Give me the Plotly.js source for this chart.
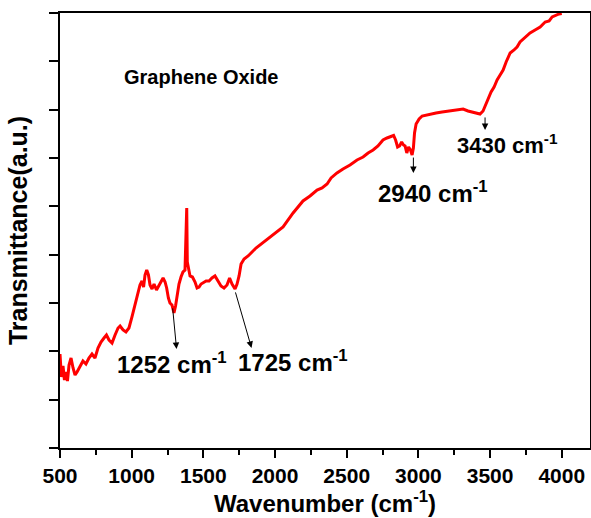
<!DOCTYPE html>
<html><head><meta charset="utf-8">
<script src="https://cdn.plot.ly/plotly-3.0.1.min.js"></script>
<style>html,body{margin:0;padding:0;background:#fff}#chart{width:591px;height:518px}</style>
</head><body><div id="chart"></div>
<script>
// FTIR spectrum of graphene oxide
const wavenumber = [
  500,510,521,531,542,552,563,577,591,605,619,640,660,681,702,723,744,765,786,807,
  824,842,863,884,905,919,940,960,981,1002,1023,1044,1058,1072,1083,1093,1105,1117,1128,1142,
  1156,1173,1191,1205,1219,1233,1244,1256,1267,1281,1295,1306,1316,1330,1344,1358,1372,1379,1384,1388,
  1396,1407,1424,1442,1456,1470,1484,1498,1519,1540,1560,1581,1602,1623,1644,1665,1683,1700,1721,1735,
  1749,1763,1784,1812,1867,1923,1979,2056,2126,2195,2244,2293,2328,2363,2391,2432,2474,2523,2572,2614,
  2649,2684,2718,2753,2781,2809,2827,2841,2855,2869,2883,2896,2907,2919,2931,2945,2956,2965,2973,2984,
  3005,3026,3053,3081,3123,3165,3221,3270,3312,3346,3374,3402,3430,3451,3468,3486,3507,3528,3549,3570,
  3591,3612,3640,3667,3688,3709,3744,3779,3814,3849,3884,3912,3933,3960,3981,4000
];
const transmittance = [
  1.945,1.469,1.697,1.407,1.573,1.386,1.717,1.862,1.655,1.510,1.573,1.676,1.800,1.738,1.862,1.945,1.862,2.069,2.193,2.276,
  2.338,2.235,2.173,2.338,2.483,2.524,2.442,2.400,2.483,2.711,2.959,3.228,3.373,3.455,3.331,3.580,3.683,3.580,3.373,3.290,
  3.393,3.269,3.373,3.455,3.518,3.435,3.311,3.104,3.000,2.959,2.793,2.938,3.166,3.393,3.538,3.642,3.683,4.924,4.966,3.849,
  3.683,3.559,3.538,3.435,3.311,3.331,3.393,3.414,3.455,3.455,3.518,3.559,3.455,3.352,3.311,3.373,3.518,3.393,3.290,3.393,
  3.559,3.807,3.911,3.973,4.138,4.262,4.386,4.573,4.862,5.111,5.214,5.338,5.380,5.462,5.587,5.690,5.773,5.856,5.959,6.021,
  6.104,6.166,6.249,6.373,6.414,6.456,6.466,6.373,6.228,6.249,6.331,6.269,6.249,6.104,6.228,6.166,6.063,6.207,6.518,6.704,
  6.807,6.869,6.890,6.911,6.931,6.952,6.973,6.994,7.014,6.973,6.952,6.921,6.911,6.973,7.097,7.221,7.366,7.469,7.614,7.718,
  7.821,7.987,8.173,8.235,8.297,8.401,8.504,8.587,8.649,8.711,8.814,8.835,8.918,8.959,8.980,8.990
];
const xTickValues = [500, 1000, 1500, 2000, 2500, 3000, 3500, 4000];
const xTickLabels = ['500', '1000', '1500', '2000', '2500', '3000', '3500', '4000'];
const sampleName = 'Graphene Oxide';
const peakLabels = ['1252 cm<sup>-1</sup>', '1725 cm<sup>-1</sup>', '2940 cm<sup>-1</sup>', '3430 cm<sup>-1</sup>'];

const FONT = 'Arial, "Liberation Sans", sans-serif';

const trace = {
  x: wavenumber, y: transmittance, type: 'scatter', mode: 'lines',
  line: {color: '#ff0000', width: 3}, hoverinfo: 'skip', showlegend: false
};

// arrow: tail on the curve (ax, ay), head near the label (x, y)
const arrows = [
  {x: 1313, y: 2.05, ax: 1285, ay: 2.92},
  {x: 1836, y: 2.07, ax: 1721, ay: 3.25},
  {x: 2965, y: 5.69, ax: 2965, ay: 6.04},
  {x: 3465, y: 6.58, ax: 3465, ay: 6.87}
].map(a => Object.assign({
  xref: 'x', yref: 'y', axref: 'x', ayref: 'y', text: '', showarrow: true,
  arrowhead: 2, arrowsize: 1.3, arrowwidth: 1, arrowcolor: '#000', standoff: 0, startstandoff: 0
}, a));

const labelPos = [
  {x: 1278, y: 1.76, size: 24},
  {x: 2128, y: 1.80, size: 24},
  {x: 3105, y: 5.30, size: 24},
  {x: 3620, y: 6.28, size: 22}
];
const labels = peakLabels.map((t, i) => ({
  xref: 'x', yref: 'y', x: labelPos[i].x, y: labelPos[i].y, text: '<b>' + t + '</b>',
  showarrow: false, font: {family: FONT, size: labelPos[i].size, color: '#000'}
}));

const nameAnn = {
  xref: 'x', yref: 'y', x: 1490, y: 7.68, text: '<b>' + sampleName + '</b>', showarrow: false,
  font: {family: FONT, size: 20, color: '#000'}
};

const layout = {
  width: 591, height: 518,
  margin: {l: 60, r: 1, t: 13, b: 70},
  paper_bgcolor: '#fff', plot_bgcolor: '#fff',
  font: {family: FONT, color: '#000'},
  xaxis: {
    range: [500, 4197], tickmode: 'array', tickvals: xTickValues, ticktext: xTickLabels,
    ticks: 'outside', ticklen: 8, tickwidth: 2, tickcolor: '#000',
    minor: {dtick: 250, tick0: 500, ticks: 'outside', ticklen: 5, tickwidth: 2, tickcolor: '#000'},
    tickfont: {family: FONT, size: 21, color: '#000', weight: 'bold'},
    showline: true, linecolor: '#000', linewidth: 2, mirror: true,
    showgrid: false, zeroline: false,
    title: {text: '<b>Wavenumber (cm<sup>-1</sup>)</b>', font: {family: FONT, size: 24, color: '#000'}, standoff: 6}
  },
  yaxis: {
    range: [0, 9], dtick: 1, tick0: 0, showticklabels: false,
    ticks: 'outside', ticklen: 9, tickwidth: 2, tickcolor: '#000',
    showline: true, linecolor: '#000', linewidth: 2, mirror: true,
    showgrid: false, zeroline: false,
    title: {text: '<b>Transmittance(a.u.)</b>', font: {family: FONT, size: 25, color: '#000'}, standoff: 14}
  },
  annotations: [nameAnn].concat(labels, arrows)
};

Plotly.newPlot('chart', [trace], layout, {staticPlot: true, displayModeBar: false});
</script>
</body></html>
